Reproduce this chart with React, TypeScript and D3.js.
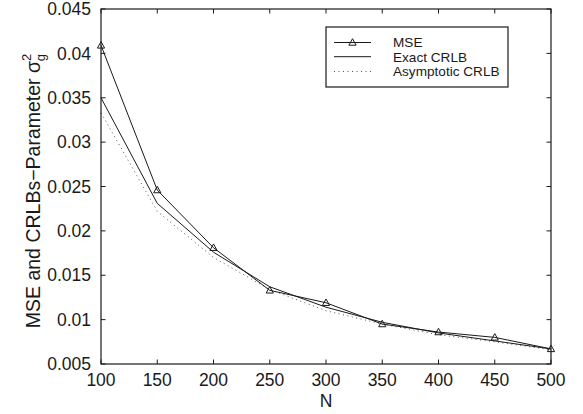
import React from "react";
import * as d3 from "d3";

const Ns = [100, 150, 200, 250, 300, 350, 400, 450, 500];
const mse = [0.0409, 0.0246, 0.0181, 0.0133, 0.0119, 0.0095, 0.0086, 0.008, 0.0067];
const exactCrlb = [0.035, 0.0231, 0.0176, 0.0137, 0.0114, 0.0097, 0.0085, 0.0076, 0.0067];
const asymCrlb = [0.0333, 0.0222, 0.017, 0.0134, 0.011, 0.0095, 0.0083, 0.0075, 0.0066];
const xTicks = [100, 150, 200, 250, 300, 350, 400, 450, 500];
const yTicks = [0.005, 0.01, 0.015, 0.02, 0.025, 0.03, 0.035, 0.04, 0.045];
const legendLabels = ["MSE", "Exact CRLB", "Asymptotic CRLB"];

const W = 583, H = 414;
const L = 101, R = 551, T = 9, B = 364;
const FONT = "'Liberation Sans', Arial, Helvetica, sans-serif";
const INK = "#1a1a1a";

export default function App() {
  const x = d3.scaleLinear().domain([100, 500]).range([L, R]);
  const y = d3.scaleLinear().domain([0.005, 0.045]).range([B, T]);
  const line = d3.line<number>().x((_, i) => x(Ns[i])).y((d) => y(d));
  const tri = (cx: number, cy: number) => {
    const s = 3.6;
    return `M${cx},${cy - s * 1.05}L${cx + s},${cy + s * 0.75}L${cx - s},${cy + s * 0.75}Z`;
  };
  const tick = 4.5;
  const lgX = 326, lgY = 27, lgW = 182, lgH = 60;
  const rows = [42.5, 56.7, 71.5];
  return (
    <svg width={W} height={H} style={{ position: "absolute", left: 0, top: 0, background: "#fff" }}>
      <rect x={0} y={0} width={W} height={H} fill="#fff" />
      {xTicks.map((t) => (
        <g key={"xt" + t}>
          <line x1={x(t)} x2={x(t)} y1={B} y2={B - tick} stroke={INK} strokeWidth={1} />
          <line x1={x(t)} x2={x(t)} y1={T} y2={T + tick} stroke={INK} strokeWidth={1} />
          <text x={x(t)} y={385.5} textAnchor="middle" fontFamily={FONT} fontSize={17.5} fill={INK}>
            {t}
          </text>
        </g>
      ))}
      {yTicks.map((t) => (
        <g key={"yt" + t}>
          <line x1={L} x2={L + tick} y1={y(t)} y2={y(t)} stroke={INK} strokeWidth={1} />
          <line x1={R} x2={R - tick} y1={y(t)} y2={y(t)} stroke={INK} strokeWidth={1} />
          <text x={91} y={y(t) + 6.2} textAnchor="end" fontFamily={FONT} fontSize={17.5} fill={INK}>
            {String(t)}
          </text>
        </g>
      ))}
      <path d={line(asymCrlb) || ""} fill="none" stroke="#555" strokeWidth={1} strokeDasharray="1 3.5" />
      <path d={line(exactCrlb) || ""} fill="none" stroke={INK} strokeWidth={1} />
      <path d={line(mse) || ""} fill="none" stroke={INK} strokeWidth={1} />
      {mse.map((v, i) => (
        <path key={"m" + i} d={tri(x(Ns[i]), y(v))} fill="none" stroke={INK} strokeWidth={1} />
      ))}
      <rect x={L} y={T} width={R - L} height={B - T} fill="none" stroke={INK} strokeWidth={1.2} />
      <rect x={lgX} y={lgY} width={lgW} height={lgH} fill="#fff" stroke={INK} strokeWidth={1.2} />
      <line x1={334} x2={371} y1={rows[0]} y2={rows[0]} stroke={INK} strokeWidth={1} />
      <path d={tri(352.5, rows[0])} fill="none" stroke={INK} strokeWidth={1} />
      <line x1={334} x2={371} y1={rows[1]} y2={rows[1]} stroke={INK} strokeWidth={1} />
      <line x1={334} x2={371} y1={rows[2]} y2={rows[2]} stroke="#555" strokeWidth={1} strokeDasharray="1 3.5" />
      {legendLabels.map((s, i) => (
        <text key={s} x={393} y={rows[i] + 4.8} fontFamily={FONT} fontSize={13.6} fill={INK}>
          {s}
        </text>
      ))}
      <text x={(L + R) / 2} y={407} textAnchor="middle" fontFamily={FONT} fontSize={17.5} fill={INK}>
        N
      </text>
      <text
        transform={`translate(40,191) rotate(-90)`}
        textAnchor="middle"
        fontFamily={FONT}
        fontSize={19.5}
        fill={INK}
      >
        MSE and CRLBs−Parameter σ
        <tspan fontSize={13} dy={-9}>2</tspan>
        <tspan fontSize={13} dx={-7.5} dy={14}>g</tspan>
      </text>
    </svg>
  );
}
